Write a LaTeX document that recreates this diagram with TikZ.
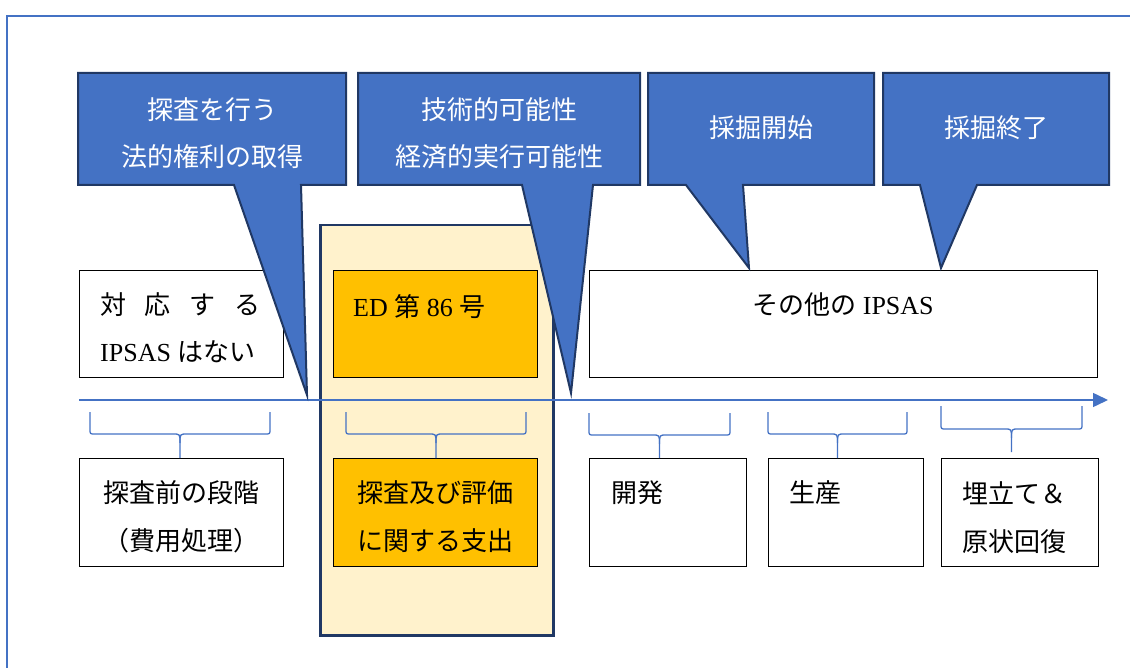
\documentclass[tikz,border=0pt]{standalone}
\usepackage{fontspec}
\setmainfont{Liberation Serif}
\newfontfamily\cjk{Noto Sans CJK JP}
\newcommand\jp[1]{{\cjk #1}}
\usetikzlibrary{arrows.meta}
\definecolor{accent}{HTML}{4472C4}
\definecolor{navy}{HTML}{203864}
\definecolor{gold}{HTML}{FFC000}
\definecolor{cream}{HTML}{FFF2CC}
\tikzset{
  txt/.style={inner sep=0pt, font=\fontsize{26}{47}\selectfont},
  btxt/.style={inner sep=0pt, font=\fontsize{26}{48}\selectfont},
  ctxt/.style={txt, text=white, align=center},
  callout/.style={fill=accent, draw=navy, line width=2pt, line join=miter},
  plainbox/.style={draw=black, line width=1.2pt, fill=white, inner sep=0pt, anchor=north west},
  goldbox/.style={plainbox, fill=gold},
  column/.style={draw=navy, line width=2.5pt, fill=cream, inner sep=0pt, anchor=north west},
  brace/.style={draw=accent, line width=1.3pt},
  frame/.style={draw=accent, line width=2pt},
  timeline/.style={draw=accent, line width=1.5pt, -{Triangle[length=15pt,width=14pt]}}
}
\begin{document}
\begin{tikzpicture}[x=1pt,y={(0pt,-1pt)}]
\useasboundingbox (0,0) rectangle (1130,668);
% frame
\draw[frame] (7,668) -- (7,16) -- (1130,16);
% highlight column
\node[column, minimum width=233pt, minimum height=410pt] (col) at (319,224) {};
% upper boxes
\node[plainbox, minimum width=204pt, minimum height=107pt] (none) at (79,270) {};
\node[goldbox, minimum width=204pt, minimum height=107pt] (ed) at (333,270) {};
\node[plainbox, minimum width=508pt, minimum height=107pt] (other) at (589,270) {};
% lower boxes
\node[plainbox, minimum width=204pt, minimum height=108pt] (pre) at (79,458) {};
\node[goldbox, minimum width=204pt, minimum height=108pt] (expl) at (333,458) {};
\node[plainbox, minimum width=157pt, minimum height=108pt] (dev) at (589,458) {};
\node[plainbox, minimum width=155pt, minimum height=108pt] (prod) at (768,458) {};
\node[plainbox, minimum width=157pt, minimum height=108pt] (rest) at (941,458) {};
% texts in boxes
\node[txt, anchor=west, align=left] (nonet) at (100,327.5)
  {\makebox[160pt][l]{\jp{対}\hfill\jp{応}\hfill\jp{す}\hfill\jp{る}}\\IPSAS \jp{はない}};
\node[txt, anchor=west] (edt) at (353,307) {ED \jp{第} 86 \jp{号}};
\node[txt] (othert) at (843,305) {\jp{その他の} IPSAS};
\node[btxt, align=center] (pret) at (181,517) {\jp{探査前の段階}\\\jp{（費用処理）}};
\node[btxt, align=center] (explt) at (435,517) {\jp{探査及び評価}\\\jp{に関する支出}};
\node[btxt, anchor=west] (devt) at (611,493) {\jp{開発}};
\node[btxt, anchor=west] (prodt) at (789,493) {\jp{生産}};
\node[btxt, anchor=west, align=left] (restt) at (962,517.5) {\jp{埋立て＆}\\\jp{原状回復}};
% timeline
\coordinate (tl0) at (79,400);
\coordinate (tl1) at (1108,400);
\draw[timeline] (tl0) -- (tl1);
% braces
\foreach \a/\b/\t/\h/\e in {90/270/412/434/458, 346/526/412/434/458, 589/730/413/435/458, 768/907/412/434/458, 941/1082/406/429/452}{
  \pgfmathsetmacro\m{(\a+\b)/2}
  \draw[brace] (\a,\t) -- (\a,\h-5) .. controls (\a,\h) .. (\a+5,\h) -- (\m-7,\h) .. controls (\m,\h) .. (\m,\h+9) -- (\m,\e);
  \draw[brace] (\b,\t) -- (\b,\h-5) .. controls (\b,\h) .. (\b-5,\h) -- (\m+7,\h) .. controls (\m,\h) .. (\m,\h+9);
}
% callouts
\draw[callout] (78,73) -- (346,73) -- (346,185) -- (301,185) -- (307,395) -- (234,185) -- (78,185) -- cycle;
\draw[callout] (358,73) -- (640,73) -- (640,185) -- (593,185) -- (571,393) -- (522,185) -- (358,185) -- cycle;
\draw[callout] (648,73) -- (874,73) -- (874,185) -- (743,185) -- (749,268) -- (686,185) -- (648,185) -- cycle;
\draw[callout] (883,73) -- (1109,73) -- (1109,185) -- (977,185) -- (941,268) -- (920,185) -- (883,185) -- cycle;
\node[ctxt] (c1) at (212,133.5) {\jp{探査を行う}\\\jp{法的権利の取得}};
\node[ctxt] (c2) at (499,133.5) {\jp{技術的可能性}\\\jp{経済的実行可能性}};
\node[ctxt] (c3) at (761,128) {\jp{採掘開始}};
\node[ctxt] (c4) at (996,128) {\jp{採掘終了}};
\end{tikzpicture}
\end{document}
